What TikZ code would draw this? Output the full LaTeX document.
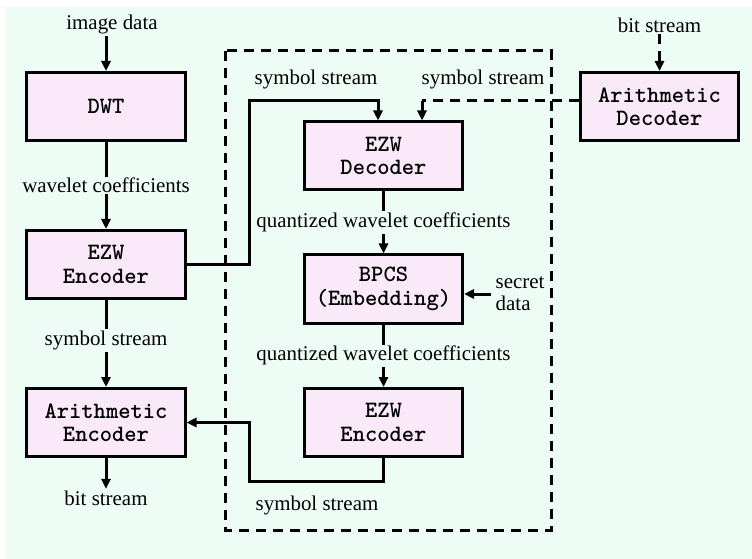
\documentclass[tikz,border=0pt]{standalone}
\usepackage{fontspec}
\setmainfont{Liberation Serif}
\usetikzlibrary{arrows.meta}
\definecolor{bgmint}{RGB}{238,252,246}
\definecolor{boxpink}{RGB}{250,233,249}
\tikzset{
  blk/.style={draw=black, line width=3bp, fill=boxpink, minimum width=158bp,
    minimum height=68bp, inner sep=0pt, align=center,
    font=\ttfamily\bfseries\fontsize{23.5}{23.5}\selectfont},
  lbl/.style={font=\fontsize{21}{22}\selectfont, inner sep=1.5bp},
  lblfill/.style={lbl, fill=bgmint},
  tip/.style={-{Triangle[length=10bp,width=9bp]}},
  flow/.style={line width=3bp, tip},
  dashlink/.style={line width=3bp, dash pattern=on 10bp off 7bp},
}
\begin{document}
\begin{tikzpicture}[x=1bp, y=-1bp]
  \useasboundingbox (0,0) rectangle (752,559);
  \fill[white] (0,0) rectangle (752,559);
  \fill[bgmint] (5,7) rectangle (752,559);

  % embedding stage frame
  \draw[dashlink] (225,51) rectangle (551,530);

  % blocks
  \node[blk] (dwt)   at (106,106.5) {DWT};
  \node[blk] (enc1)  at (106,264.5) {EZW\\Encoder};
  \node[blk] (arenc) at (106,422.5) {Arithmetic\\Encoder};
  \node[blk] (dec)   at (383.5,156) {EZW\\Decoder};
  \node[blk] (bpcs)  at (383.5,289) {BPCS\\(Embedding)};
  \node[blk] (enc2)  at (383.5,422.5) {EZW\\Encoder};
  \node[blk] (ardec) at (659.5,106.5) {Arithmetic\\Decoder};

  % free-standing texts
  \node[lbl] (imgin)  at (112,25)  {image data};
  \node[lbl] (bitout) at (106,498) {bit stream};
  \node[lbl] (bitin)  at (659.5,25) {bit stream};
  \node[lbl, anchor=west, align=left] (secret) at (494,294) {secret\\data};
  \node[lbl] (ss1) at (316,80)  {symbol stream};
  \node[lbl] (ss2) at (483,80)  {symbol stream};
  \node[lbl] (ss3) at (317,505) {symbol stream};

  % left chain
  \draw[flow] (dwt.north |- imgin.south) -- (dwt.north);
  \draw[flow] (dwt.south) -- node[lblfill] {wavelet coefficients} (enc1.north);
  \draw[flow] (enc1.south) -- node[lblfill, yshift=3bp] {symbol stream} (arenc.north);
  \draw[flow] (arenc.south) -- (bitout.north);

  % into the decoder
  \coordinate (upL) at (249,101);
  \coordinate (upR) at (422,101);
  \draw[flow] (enc1.east) -| (upL) -| ([xshift=-5.5bp]dec.north);
  \draw[dashlink] (ardec.west |- upR) -- (upR);
  \draw[flow] (upR) -- (upR |- dec.north);
  \draw[dashlink, tip] (bitin.south) -- (ardec.north);

  % embedding chain
  \draw[flow] (dec.south) -- node[lblfill] {quantized wavelet coefficients} (bpcs.north);
  \draw[flow] (bpcs.south) -- node[lblfill] {quantized wavelet coefficients} (enc2.north);
  \coordinate (sd) at (491,294);
  \draw[flow] (sd) -- (sd -| bpcs.east);

  % back to the arithmetic encoder
  \coordinate (dnR) at (249,481);
  \draw[flow] (enc2.south) |- (dnR) |- (arenc.east);
\end{tikzpicture}
\end{document}
